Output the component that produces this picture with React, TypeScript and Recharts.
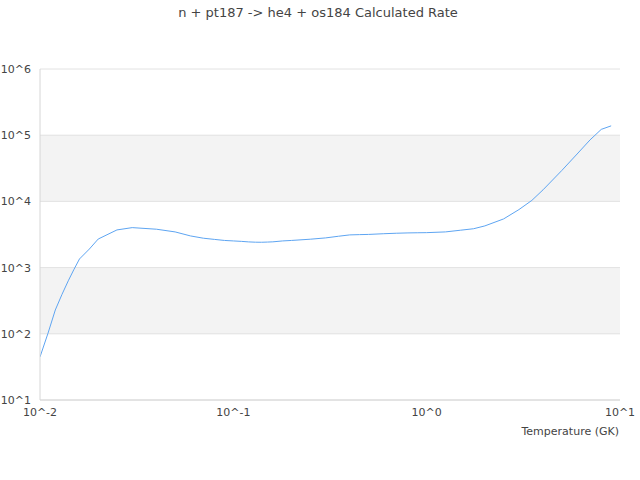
import React from "react";
import {
  LineChart,
  Line,
  XAxis,
  YAxis,
  CartesianGrid,
} from "recharts";

// temperatures in GK
const temperatures = [
  0.01, 0.011, 0.012, 0.013, 0.014, 0.015, 0.016, 0.018, 0.02, 0.025, 0.03,
  0.04, 0.05, 0.06, 0.07, 0.08, 0.09, 0.1, 0.11, 0.12, 0.13, 0.14, 0.15, 0.16,
  0.18, 0.2, 0.25, 0.3, 0.35, 0.4, 0.45, 0.5, 0.6, 0.7, 0.8, 0.9, 1.0, 1.25,
  1.5, 1.75, 2.0, 2.5, 3, 3.5, 4, 5, 6, 7, 8, 9,
];

// calculated rate at each temperature
const rates = [
  44.7, 102, 229, 395, 631, 944, 1349, 1907, 2700, 3707, 4018, 3800, 3459,
  3010, 2780, 2666, 2572, 2528, 2490, 2445, 2420, 2415, 2430, 2450, 2528, 2572,
  2685, 2808, 2977, 3118, 3150, 3170, 3250, 3306, 3342, 3360, 3373, 3459, 3672,
  3866, 4265, 5436, 7518, 10355, 14970, 29300, 52000, 84900, 122400, 138400,
];

const xTicks = [0.01, 0.1, 1, 10];
const yTicks = [10, 100, 1000, 10000, 100000, 1000000];

const title = "n + pt187 -> he4 + os184 Calculated Rate";
const xLabel = "Temperature (GK)";

const data = temperatures.map((t, i) => ({ t, rate: rates[i] }));

const powerLabel = (v: number) => "10^" + Math.round(Math.log10(v));

const font = "'DejaVu Sans', sans-serif";
const tickStyle = { fill: "#444", fontSize: 11, fontFamily: font };

export default function App() {
  return (
    <div
      style={{
        position: "absolute",
        left: 0,
        top: 0,
        width: 640,
        height: 480,
        background: "#fff",
        fontFamily: font,
      }}
    >
      <div
        style={{
          position: "absolute",
          top: 4,
          left: 0,
          width: 636,
          textAlign: "center",
          fontSize: 13,
          lineHeight: "18px",
          color: "#444",
        }}
      >
        {title}
      </div>
      <LineChart
        width={640}
        height={480}
        data={data}
        margin={{ top: 69, right: 20, left: 0, bottom: 40 }}
      >
        <CartesianGrid
          vertical={false}
          stroke="#e2e2e2"
          horizontalFill={["#ffffff", "#f3f3f3"]}
          fillOpacity={1}
        />
        <XAxis
          dataKey="t"
          type="number"
          scale="log"
          domain={[0.01, 10]}
          ticks={xTicks}
          tickFormatter={powerLabel}
          tick={tickStyle}
          tickLine={false}
          tickSize={0}
          tickMargin={8}
          axisLine={{ stroke: "#d6d6d6" }}
          height={40}
          allowDataOverflow
          label={{
            value: xLabel,
            position: "insideBottomRight",
            offset: 1,
            dy: -4,
            fill: "#444",
            fontSize: 11,
            fontFamily: font,
          }}
        />
        <YAxis
          type="number"
          scale="log"
          domain={[10, 1000000]}
          ticks={yTicks}
          tickFormatter={powerLabel}
          tick={tickStyle}
          tickLine={false}
          tickSize={0}
          tickMargin={9}
          axisLine={{ stroke: "#d6d6d6" }}
          width={40}
          allowDataOverflow
        />
        <YAxis
          yAxisId="frame"
          orientation="right"
          type="number"
          scale="log"
          domain={[10, 1000000]}
          tick={false}
          tickLine={false}
          axisLine={{ stroke: "#d6d6d6" }}
          width={0}
        />
        <Line
          type="linear"
          dataKey="rate"
          stroke="#5ea5f2"
          strokeWidth={1}
          dot={false}
          activeDot={false}
          isAnimationActive={false}
        />
      </LineChart>
    </div>
  );
}
